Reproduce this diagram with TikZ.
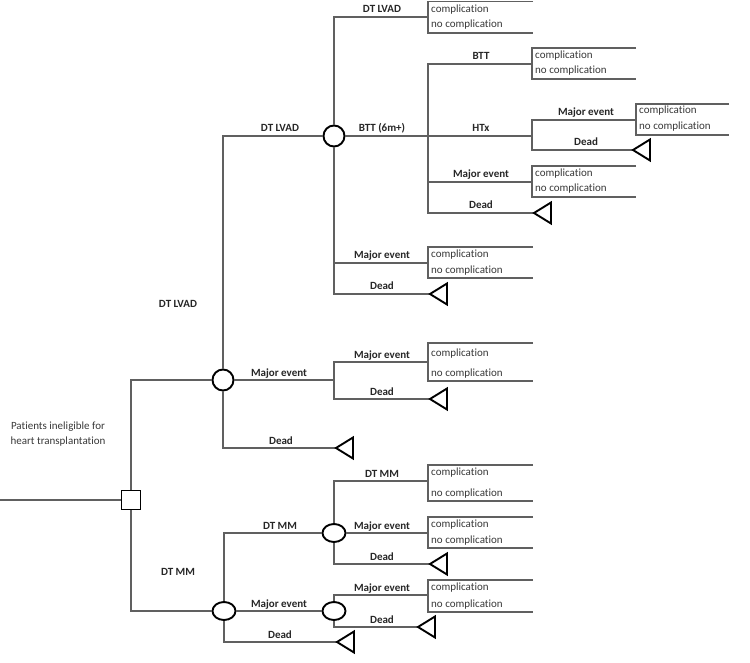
\documentclass[tikz,border=0pt]{standalone}
\usepackage{fontspec}
\setmainfont{Carlito}[Ligatures={NoCommon}]
\usetikzlibrary{shapes.geometric}
\definecolor{ln}{HTML}{606060}
\definecolor{tx}{HTML}{262626}
\definecolor{bt}{HTML}{383838}
\newcommand\outbox[7]{%
  \coordinate (#1) at (#2,#3);
  \draw[edge] (#6,#4) -- (#2,#4) -- (#2,#5) -- (#6,#5);
  \node[btxt,anchor=base west] (#1a) at ({#2+3},{#4+#7}) {complication};
  \node[btxt,anchor=base west] (#1b) at ({#2+3},{#5-5}) {no complication};}
\newcommand\blab[4]{\node[lab,anchor=base] (#1) at (#2,{#3-4}) {#4};}
\tikzset{deadend/.pic={\draw[black,line width=1.9pt,line join=miter] (0,0) -- (17,-10.5) -- (17,10.5) -- cycle;}}
\begin{document}
\begin{tikzpicture}[x=1pt,y=-1pt,
  edge/.style={draw=ln,line width=1.3pt},
  chance/.style={circle,draw=black,line width=1.9pt,fill=white,minimum size=21pt,inner sep=0pt},
  chanceo/.style={ellipse,draw=black,line width=1.9pt,fill=white,minimum width=23pt,minimum height=18pt,inner sep=0pt},
  decision/.style={rectangle,draw=black,line width=1.9pt,fill=white,minimum size=19pt,inner sep=0pt},
  lab/.style={font=\fontsize{11}{12}\selectfont\bfseries,text=tx,inner sep=0pt},
  btxt/.style={font=\fontsize{11}{12}\selectfont,text=bt,inner sep=0pt}]
\useasboundingbox (0,0) rectangle (750,663);

% decision and chance nodes
\node[decision] (S) at (131,500) {};
\node[chance] (C1) at (223,380) {};
\node[chanceo] (C2) at (224,611) {};
\node[chance] (C3) at (334,136) {};
\node[chanceo] (C4) at (334,533) {};
\node[chanceo] (C5) at (334,611) {};

% junctions and terminal tips
\coordinate (in) at (0,500);
\coordinate (J1) at (334,380);
\coordinate (J2) at (428,136);
\coordinate (J3) at (532,136);
\coordinate (T1) at (336,448);
\coordinate (T2) at (430,399);
\coordinate (T3) at (430,294);
\coordinate (T4) at (534,213);
\coordinate (T5) at (633,150);
\coordinate (T6) at (337,642);
\coordinate (T7) at (430,564);
\coordinate (T8) at (418,627);

% outcome boxes
\outbox{B1}{428}{362}{343}{381}{533}{13.5}
\outbox{B2}{428}{17}{1.5}{33}{533}{11}
\outbox{B3}{428}{263}{247}{278}{533}{10.5}
\outbox{B4}{532}{64}{48}{79}{636}{10.5}
\outbox{B5}{532}{182}{166}{197}{636}{10.5}
\outbox{B6}{636}{120}{104}{135}{729}{10}
\outbox{B7}{428}{481}{465}{501}{533}{10.5}
\outbox{B8}{428}{533}{517}{548}{533}{10.5}
\outbox{B9}{428}{595}{580}{612}{533}{10.5}

% connectors
\draw[edge] (in) -- (S.west);
\draw[edge] (S.north) |- (C1.west);
\draw[edge] (S.south) |- (C2.west);
\draw[edge] (C1.north) |- (C3.west);
\draw[edge] (C1.east) -- (J1);
\draw[edge] (C1.south) |- (T1);
\draw[edge] (J1) |- (B1);
\draw[edge] (J1) |- (T2);
\draw[edge] (C3.north) |- (B2);
\draw[edge] (C3.east) -- (J2);
\draw[edge] (C3.south) |- (B3);
\draw[edge] (C3.south) |- (T3);
\draw[edge] (J2) |- (B4);
\draw[edge] (J2) -- (J3);
\draw[edge] (J2) |- (B5);
\draw[edge] (J2) |- (T4);
\draw[edge] (J3) |- (B6);
\draw[edge] (J3) |- (T5);
\draw[edge] (C2.north) |- (C4.west);
\draw[edge] (C2.east) -- (C5.west);
\draw[edge] (C2.south) |- (T6);
\draw[edge] (C4.north) |- (B7);
\draw[edge] (C4.east) -- (B8);
\draw[edge] (C4.south) |- (T7);
\draw[edge] (C5.north) |- (B9);
\draw[edge] (C5.south) |- (T8);

% terminal triangles
\foreach \t in {T1,T2,T3,T4,T5,T6,T7,T8} {\pic at (\t) {deadend};}

% branch labels
\blab{L1}{280}{136}{DT LVAD}
\blab{L2}{279}{380}{Major event}
\blab{L3}{281}{448}{Dead}
\blab{L4}{382}{362}{Major event}
\blab{L5}{382}{399}{Dead}
\blab{L6}{382}{17}{DT LVAD}
\blab{L7}{382}{136}{BTT (6m+)}
\blab{L8}{382}{263}{Major event}
\blab{L9}{382}{294}{Dead}
\blab{L10}{481}{64}{BTT}
\blab{L11}{481}{136}{HTx}
\blab{L12}{481}{182}{Major event}
\blab{L13}{481}{213}{Dead}
\blab{L14}{586}{120}{Major event}
\blab{L15}{586}{150}{Dead}
\blab{L16}{280}{533}{DT MM}
\blab{L17}{279}{611}{Major event}
\blab{L18}{280}{642}{Dead}
\blab{L19}{382}{481}{DT MM}
\blab{L20}{382}{533}{Major event}
\blab{L21}{382}{564}{Dead}
\blab{L22}{382}{595}{Major event}
\blab{L23}{382}{627}{Dead}

\node[lab] (A1) at (178,304) {DT LVAD};
\node[lab] (A2) at (178,572) {DT MM};
\node[btxt,align=center,font=\fontsize{11}{15}\selectfont] (P) at (58,434) {Patients ineligible for\\heart transplantation};
\end{tikzpicture}
\end{document}
